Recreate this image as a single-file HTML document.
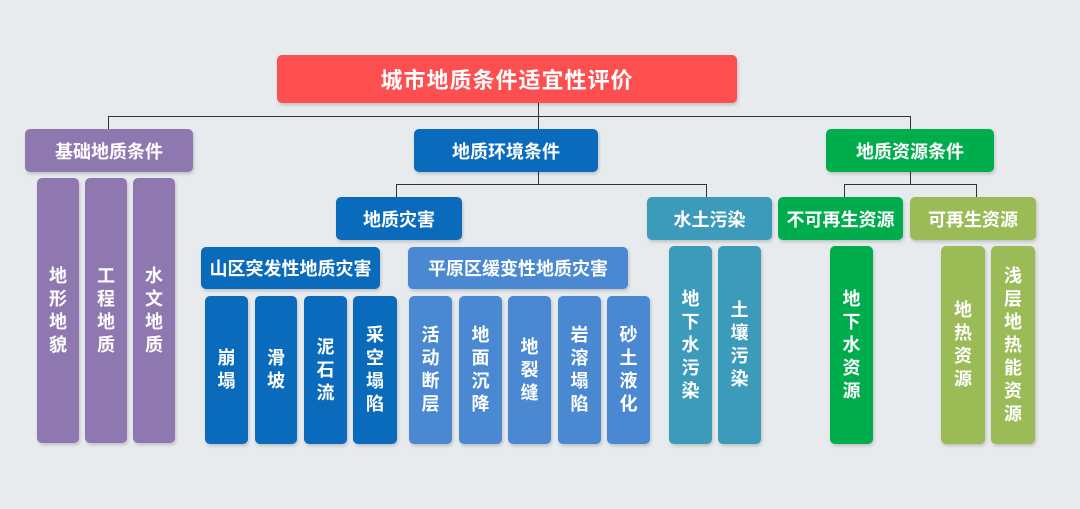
<!DOCTYPE html>
<html><head><meta charset="utf-8"><style>
body{margin:0;width:1080px;height:509px;background:#e8ebee;position:relative;overflow:hidden;font-family:"Liberation Sans","Noto Sans CJK SC",sans-serif;font-weight:bold;color:#fff}
.b{position:absolute;border-radius:5px;display:flex;align-items:center;justify-content:center;box-shadow:1px 2px 3px rgba(0,0,0,.18);font-size:18px;text-align:center}
.v{line-height:23px;font-size:18px}
.l{position:absolute;background:#333}
.r{background:#fd4f50}.p{background:#8f78b0}.d{background:#0a6bbd}.lb{background:#4a88d2}.t{background:#3c9bbb}.g{background:#00ad4c}.o{background:#9bbb57}
</style></head><body>
<!-- lines -->
<div class="l" style="left:538px;top:103px;width:1px;height:26px"></div>
<div class="l" style="left:108px;top:116px;width:803px;height:1px"></div>
<div class="l" style="left:108px;top:116px;width:1px;height:13px"></div>
<div class="l" style="left:910px;top:116px;width:1px;height:13px"></div>
<div class="l" style="left:538px;top:172px;width:1px;height:12px"></div>
<div class="l" style="left:396px;top:184px;width:311px;height:1px"></div>
<div class="l" style="left:396px;top:184px;width:1px;height:13px"></div>
<div class="l" style="left:706px;top:184px;width:1px;height:13px"></div>
<div class="l" style="left:910px;top:172px;width:1px;height:12px"></div>
<div class="l" style="left:844px;top:184px;width:133px;height:1px"></div>
<div class="l" style="left:844px;top:184px;width:1px;height:13px"></div>
<div class="l" style="left:976px;top:184px;width:1px;height:13px"></div>

<div class="b r" style="left:277px;top:55px;width:460px;height:48px;font-size:22px;letter-spacing:1px">城市地质条件适宜性评价</div>
<div class="b p" style="left:25px;top:129px;width:168px;height:43px">基础地质条件</div>
<div class="b d" style="left:414px;top:129px;width:184px;height:43px">地质环境条件</div>
<div class="b g" style="left:826px;top:129px;width:168px;height:43px">地质资源条件</div>

<div class="b p v" style="left:37px;top:178px;width:42px;height:265px">地<br>形<br>地<br>貌</div>
<div class="b p v" style="left:85px;top:178px;width:42px;height:265px">工<br>程<br>地<br>质</div>
<div class="b p v" style="left:133px;top:178px;width:42px;height:265px">水<br>文<br>地<br>质</div>

<div class="b d" style="left:336px;top:197px;width:126px;height:43px">地质灾害</div>
<div class="b t" style="left:647px;top:197px;width:125px;height:43px">水土污染</div>
<div class="b g" style="left:778px;top:197px;width:125px;height:43px">不可再生资源</div>
<div class="b o" style="left:910px;top:197px;width:126px;height:43px">可再生资源</div>

<div class="b d" style="left:201px;top:247px;width:179px;height:42px">山区突发性地质灾害</div>
<div class="b lb" style="left:408px;top:247px;width:220px;height:42px">平原区缓变性地质灾害</div>

<div class="b d v" style="left:205px;top:296px;width:43px;height:148px">崩<br>塌</div>
<div class="b d v" style="left:255px;top:296px;width:42px;height:148px">滑<br>坡</div>
<div class="b d v" style="left:304px;top:296px;width:43px;height:148px">泥<br>石<br>流</div>
<div class="b d v" style="left:353px;top:296px;width:44px;height:148px">采<br>空<br>塌<br>陷</div>
<div class="b lb v" style="left:409px;top:296px;width:43px;height:148px">活<br>动<br>断<br>层</div>
<div class="b lb v" style="left:459px;top:296px;width:43px;height:148px">地<br>面<br>沉<br>降</div>
<div class="b lb v" style="left:508px;top:296px;width:43px;height:148px">地<br>裂<br>缝</div>
<div class="b lb v" style="left:558px;top:296px;width:43px;height:148px">岩<br>溶<br>塌<br>陷</div>
<div class="b lb v" style="left:607px;top:296px;width:43px;height:148px">砂<br>土<br>液<br>化</div>

<div class="b t v" style="left:669px;top:246px;width:43px;height:198px">地<br>下<br>水<br>污<br>染</div>
<div class="b t v" style="left:718px;top:246px;width:43px;height:198px">土<br>壤<br>污<br>染</div>
<div class="b g v" style="left:830px;top:246px;width:43px;height:198px">地<br>下<br>水<br>资<br>源</div>
<div class="b o v" style="left:941px;top:246px;width:44px;height:198px">地<br>热<br>资<br>源</div>
<div class="b o v" style="left:991px;top:246px;width:44px;height:198px">浅<br>层<br>地<br>热<br>能<br>资<br>源</div>
</body></html>
